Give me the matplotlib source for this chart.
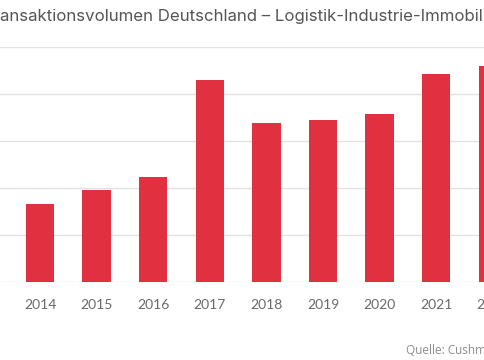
import numpy as np
import matplotlib
matplotlib.use('Agg')
import matplotlib.pyplot as plt

# Transaktionsvolumen (Mrd. EUR, geschaetzt)
years = ['2014', '2015', '2016', '2017', '2018', '2019', '2020', '2021', '2022']
volumes = [3.3, 3.9, 4.45, 8.6, 6.75, 6.9, 7.15, 8.85, 9.2]
y_ticks = [0, 2, 4, 6, 8, 10]

title = 'Transaktionsvolumen Deutschland – Logistik-Industrie-Immobilien'
source = 'Quelle: Cushman & Wakefield'

bar_color = '#e1303f'
grid_color = '#e2e2e2'
title_font = dict(fontfamily='Inter', fontsize=12.1, color='#555555')

fig = plt.figure(figsize=(4.85, 3.6), dpi=100)
fig.patch.set_facecolor('white')

# chart is cropped on both sides, so the axes run past the figure edges
ax = fig.add_axes([-16.6 / 485, 78 / 360, 566 / 485, 235 / 360])
x = np.arange(len(years))
ax.bar(x, volumes, width=0.5, color=bar_color, zorder=3)

ax.set_xlim(-1, 9)
ax.set_ylim(y_ticks[0], y_ticks[-1])
ax.set_yticks(y_ticks)
ax.yaxis.grid(True, color=grid_color, linewidth=1, zorder=0)
ax.set_yticklabels([])
ax.tick_params(axis='y', length=0)
for s in ax.spines.values():
    s.set_visible(False)

ax.set_xticks(x)
ax.set_xticklabels(years, fontfamily='Lato', fontsize=10, color='#6a6a6a')
ax.tick_params(axis='x', length=0, pad=12)

# shift the title left so that "Tr" falls off the edge, like the crop
renderer = fig.canvas.get_renderer()
probe = fig.text(0, 0, 'Tr', **title_font)
shift = probe.get_window_extent(renderer).width / fig.bbox.width
probe.remove()
fig.text(-shift, 1 - 17 / 360, title, ha='left', va='center', **title_font)
fig.text(406 / 485, 1 - 351 / 360, source, fontfamily='Open Sans', fontsize=8.5,
         color='#8c8c8c', ha='left', va='center')

fig.savefig('out.png', dpi=100)
